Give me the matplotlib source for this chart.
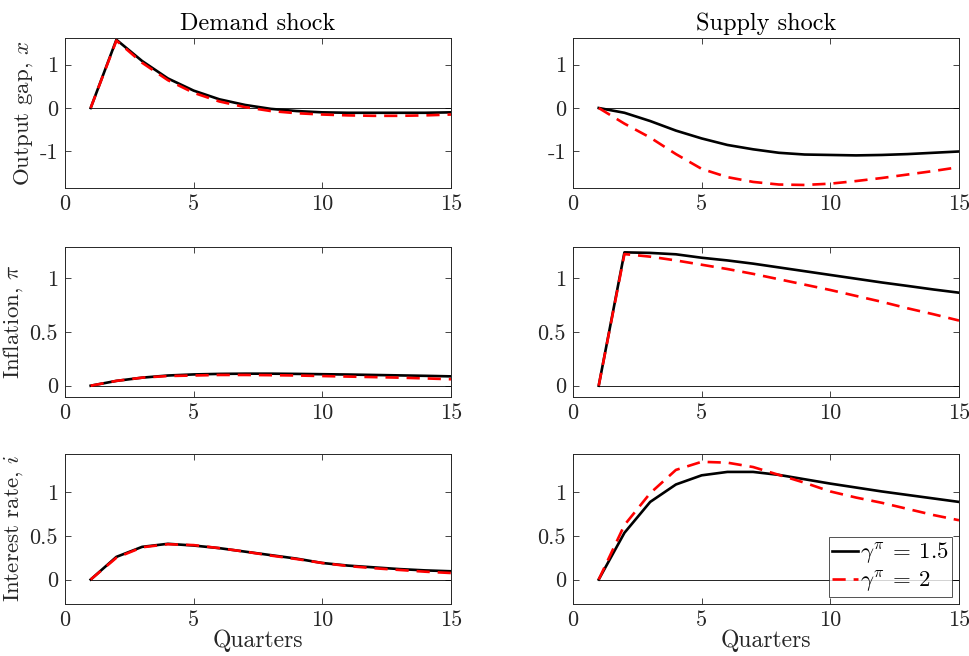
import numpy as np
import matplotlib
matplotlib.use("Agg")
import matplotlib.pyplot as plt

plt.rcParams['font.family'] = ['cmr10', 'DejaVu Serif']
plt.rcParams['mathtext.fontset'] = 'cm'
plt.rcParams['axes.unicode_minus'] = False

# ============================================================
# DATA
# ============================================================
quarters = list(range(1, 16))

# Demand shock
x_dem_15 = [0, 1.57, 1.08, 0.68, 0.40, 0.20, 0.07, -0.02, -0.07, -0.10, -0.11, -0.11, -0.11, -0.11, -0.10]
x_dem_2 = [0, 1.55, 1.04, 0.64, 0.35, 0.15, 0.02, -0.07, -0.12, -0.15, -0.17, -0.18, -0.18, -0.17, -0.15]
pi_dem_15 = [0, 0.045, 0.075, 0.095, 0.105, 0.110, 0.112, 0.112, 0.110, 0.107, 0.104, 0.100, 0.096, 0.092, 0.087]
pi_dem_2 = [0, 0.045, 0.075, 0.090, 0.095, 0.100, 0.100, 0.098, 0.095, 0.090, 0.085, 0.080, 0.075, 0.068, 0.060]
i_dem_15 = [0, 0.26, 0.375, 0.41, 0.39, 0.36, 0.32, 0.28, 0.24, 0.19, 0.16, 0.14, 0.12, 0.105, 0.095]
i_dem_2 = [0, 0.25, 0.37, 0.405, 0.395, 0.36, 0.32, 0.275, 0.235, 0.19, 0.155, 0.13, 0.11, 0.09, 0.075]

# Supply shock
x_sup_15 = [0, -0.11, -0.30, -0.52, -0.70, -0.85, -0.95, -1.03, -1.07, -1.08, -1.09, -1.08, -1.06, -1.03, -1.00]
x_sup_2 = [0, -0.36, -0.68, -1.06, -1.40, -1.59, -1.70, -1.76, -1.77, -1.74, -1.68, -1.61, -1.53, -1.45, -1.36]
pi_sup_15 = [0, 1.24, 1.235, 1.222, 1.19, 1.165, 1.135, 1.10, 1.065, 1.03, 0.995, 0.96, 0.928, 0.895, 0.865]
pi_sup_2 = [0, 1.224, 1.20, 1.165, 1.125, 1.085, 1.04, 0.99, 0.94, 0.89, 0.835, 0.78, 0.72, 0.665, 0.606]
i_sup_15 = [0, 0.536, 0.89, 1.09, 1.195, 1.234, 1.234, 1.20, 1.15, 1.10, 1.055, 1.01, 0.97, 0.93, 0.89]
i_sup_2 = [0, 0.625, 0.99, 1.257, 1.35, 1.34, 1.29, 1.20, 1.11, 1.01, 0.94, 0.88, 0.81, 0.74, 0.68]

col_titles = ["Demand shock", "Supply shock"]
row_labels = ["Output gap, $x$", "Inflation, $\\pi$", "Interest rate, $i$"]
legend_labels = ["$\\gamma^{\\pi}\\:=\\:1.5$", "$\\gamma^{\\pi}\\:=\\:2$"]

series = [
    [(x_dem_15, x_dem_2), (x_sup_15, x_sup_2)],
    [(pi_dem_15, pi_dem_2), (pi_sup_15, pi_sup_2)],
    [(i_dem_15, i_dem_2), (i_sup_15, i_sup_2)],
]
ylims = [(-1.84, 1.61), (-0.105, 1.29), (-0.28, 1.44)]
yticks = [[-1, 0, 1], [0, 0.5, 1], [0, 0.5, 1]]

# ============================================================
# FIGURE
# ============================================================
fig = plt.figure(figsize=(9.69, 6.56), dpi=100)

lefts = [0.067, 0.5913]
width = 0.3984
bottoms = [0.7134, 0.3948, 0.0793]
height = 0.2287
axc = '#262626'

for r in range(3):
    for c in range(2):
        ax = fig.add_axes([lefts[c], bottoms[r], width, height])
        y15, y2 = series[r][c]
        ax.plot(quarters, [0] * len(quarters), color='black', lw=0.6)
        l1, = ax.plot(quarters, y15, color='black', lw=1.9, label=legend_labels[0])
        l2, = ax.plot(quarters, y2, color='red', lw=1.9, ls=(0, (5, 3)), label=legend_labels[1])
        ax.set_xlim(0, 15)
        ax.set_ylim(*ylims[r])
        ax.set_xticks([0, 5, 10, 15])
        ax.set_yticks(yticks[r])
        ax.set_yticklabels([f"{t:g}" for t in yticks[r]])
        ax.tick_params(direction='in', top=True, right=True, labelsize=16,
                       colors=axc, length=4, width=0.6, pad=5)
        for sp in ax.spines.values():
            sp.set_color(axc)
            sp.set_linewidth(0.7)
        if r == 0:
            ax.set_title(col_titles[c], fontsize=17.5, color='black', pad=6)
        if c == 0:
            ax.set_ylabel(row_labels[r], fontsize=16.5, color=axc, labelpad=3)
        if r == 2:
            ax.set_xlabel("Quarters", fontsize=17, color=axc, labelpad=-1)
        if r == 2 and c == 1:
            leg = ax.legend(handles=[l1, l2], loc='lower right', fontsize=16.5,
                            frameon=True, fancybox=False, edgecolor=axc,
                            handlelength=1.1, handletextpad=0.1,
                            borderpad=0.15, labelspacing=0.1,
                            borderaxespad=0.3)
            leg.get_frame().set_linewidth(0.7)

fig.savefig("out.png", dpi=100)
